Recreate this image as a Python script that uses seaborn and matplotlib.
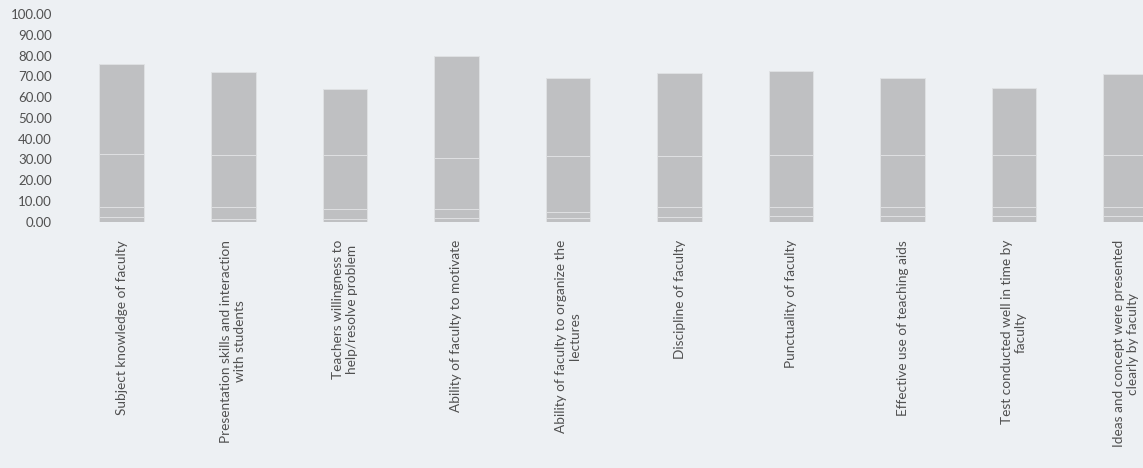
import numpy as np
import pandas as pd
import matplotlib
matplotlib.use("Agg")
import matplotlib.pyplot as plt
import seaborn as sns

categories = [
    "Subject knowledge of faculty",
    "Presentation skills and interaction\nwith students",
    "Teachers willingness to\nhelp/resolve problem",
    "Ability of faculty to motivate",
    "Ability of faculty to organize the\nlectures",
    "Discipline of faculty",
    "Punctuality of faculty",
    "Effective use of teaching aids",
    "Test conducted well in time by\nfaculty",
    "Ideas and concept were presented\nclearly by faculty",
]
poor      = [2.5, 1.5, 1.5, 2.0, 2.0, 2.5, 3.0, 3.0, 3.0, 3.0]
average   = [4.5, 5.5, 4.5, 4.0, 2.5, 4.5, 4.0, 4.0, 4.0, 4.0]
good      = [25.5, 25.0, 26.0, 24.5, 27.0, 24.5, 25.0, 25.0, 25.0, 25.0]
excellent = [43.5, 40.0, 32.0, 49.5, 37.5, 40.0, 40.5, 37.0, 32.5, 39.0]
levels = ["Excellent", "Good", "Average", "Poor"]
y_ticks = [0, 10, 20, 30, 40, 50, 60, 70, 80, 90, 100]

sns.set_theme(style="white")
plt.rcParams["font.family"] = ["Lato", "DejaVu Sans"]

bg = "#edf0f3"
bar_grey = "#bfc0c2"
sep_col = "#dfe1e3"
text_col = "#505050"

c1 = np.array(poor)
c2 = c1 + np.array(average)
c3 = c2 + np.array(good)
c4 = c3 + np.array(excellent)

rows = []
for lev, cum in zip(levels, [c4, c3, c2, c1]):
    for cat, v in zip(categories, cum):
        rows.append({"category": cat, "level": lev, "value": v})
df = pd.DataFrame(rows)

fig = plt.figure(figsize=(11.43, 4.68), dpi=100, facecolor=bg)
ax = fig.add_axes([0.0577, 0.526, 0.976, 0.444])
ax.set_facecolor(bg)

sns.barplot(data=df, x="category", y="value", hue="level", hue_order=levels,
            order=categories, dodge=False, palette=[bar_grey] * 4,
            edgecolor=sep_col, linewidth=0.7, width=0.4, legend=False,
            errorbar=None, ax=ax, saturation=1)

ax.set_xlim(-0.5, 9.5)
ax.set_ylim(0, 100)
ax.set_yticks(y_ticks)
ax.set_yticklabels([f"{t:.2f}" for t in y_ticks], fontsize=9.5, color=text_col)
ax.set_xticks(range(len(categories)))
ax.set_xticklabels(categories, rotation=90, fontsize=9.8, color=text_col,
                   ha="center", va="top", multialignment="center")
ax.tick_params(axis="both", length=0)
ax.tick_params(axis="x", pad=13)
ax.tick_params(axis="y", pad=10)
ax.set_xlabel("")
ax.set_ylabel("")
for s in ax.spines.values():
    s.set_visible(False)

fig.savefig("out.png", dpi=100, facecolor=bg)
